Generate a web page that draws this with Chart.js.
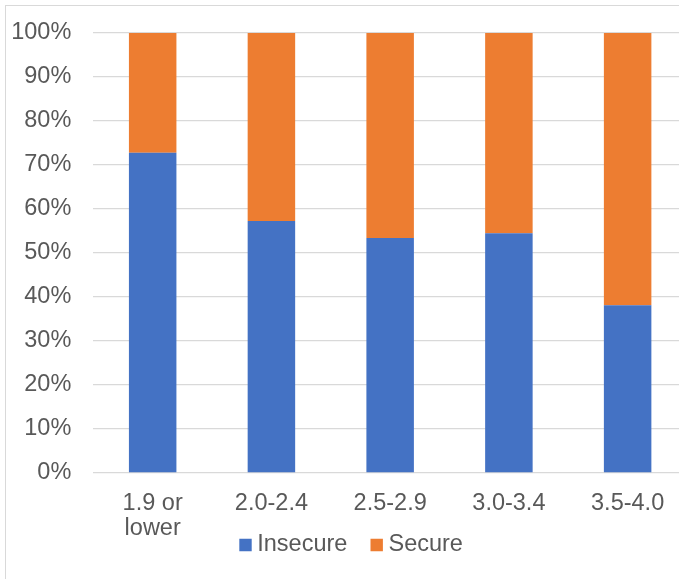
<!DOCTYPE html>
<html>
<head>
<meta charset="utf-8">
<script src="https://cdn.jsdelivr.net/npm/chart.js@4/dist/chart.umd.min.js"></script>
<style>
  html, body { margin: 0; padding: 0; background: #ffffff; overflow: hidden; }
  #wrap { position: relative; width: 679px; height: 579px; overflow: hidden; }
  #frame {
    position: absolute; left: 5px; top: 5px; width: 760px; height: 640px;
    border-left: 1.5px solid #d9d9d9; border-top: 1.5px solid #d9d9d9;
    box-sizing: border-box;
  }
  #box { position: absolute; left: 0; top: 0; width: 700px; height: 579px; }
</style>
</head>
<body>
<div id="wrap">
  <div id="frame"></div>
  <div id="box"><canvas id="chart"></canvas></div>
</div>
<script>
// GPA bands and share of students by security status (percent)
const categories = [['1.9 or', 'lower'], '2.0-2.4', '2.5-2.9', '3.0-3.4', '3.5-4.0'];
const insecure = [72.8, 57.3, 53.4, 54.5, 38.1];
const secure = [27.2, 42.7, 46.6, 45.5, 61.9];
const yTicks = [0, 10, 20, 30, 40, 50, 60, 70, 80, 90, 100];

const textColor = '#595959';
const gridColor = '#d9d9d9';
const fontFamily = '"Liberation Sans", Arial, sans-serif';

// Places the legend row under the category labels
const legendPlacement = {
  id: 'legendPlacement',
  afterLayout(chart) {
    const lg = chart.legend;
    if (!lg) return;
    lg.left = 216.2;
    lg.right = lg.left + 460;
    lg.width = 460;
    lg.top = 503.9;
    lg.bottom = lg.top + 60;
  }
};

new Chart(document.getElementById('chart'), {
  type: 'bar',
  data: {
    labels: categories,
    datasets: [
      { label: 'Insecure', data: insecure, backgroundColor: '#4472C4', borderWidth: 0 },
      { label: 'Secure', data: secure, backgroundColor: '#ED7D31', borderWidth: 0 }
    ]
  },
  plugins: [legendPlacement],
  options: {
    responsive: true,
    maintainAspectRatio: false,
    animation: false,
    layout: { padding: { left: 0, right: 13, top: 33, bottom: 0 } },
    datasets: { bar: { categoryPercentage: 0.4, barPercentage: 1.0 } },
    scales: {
      x: {
        stacked: true,
        grid: { display: false, drawTicks: false },
        border: { display: false },
        ticks: {
          color: textColor,
          padding: 17.2,
          maxRotation: 0,
          autoSkip: false,
          font: { family: fontFamily, size: 23.5, lineHeight: 1.094 }
        },
        afterFit(scale) { scale.height = 86; }
      },
      y: {
        stacked: true,
        min: 0,
        max: 100,
        afterBuildTicks(scale) { scale.ticks = yTicks.map(v => ({ value: v })); },
        grid: { color: gridColor, lineWidth: 1.3, drawTicks: false },
        border: { display: false },
        ticks: {
          color: textColor,
          padding: 22,
          font: { family: fontFamily, size: 23.5 },
          callback: v => v + '%'
        },
        afterFit(scale) {
          scale.width = 93.3;
          scale.paddingTop = 0;
          scale.paddingBottom = 0;
        }
      }
    },
    plugins: {
      tooltip: { enabled: false },
      title: { display: false },
      legend: {
        display: true,
        position: 'bottom',
        align: 'start',
        maxHeight: 20,
        labels: {
          color: textColor,
          usePointStyle: true,
          pointStyle: 'rect',
          boxWidth: 0.01,
          boxHeight: 12.4,
          padding: 29.3,
          font: { family: fontFamily, size: 23.5 }
        }
      }
    }
  }
});
</script>
</body>
</html>
